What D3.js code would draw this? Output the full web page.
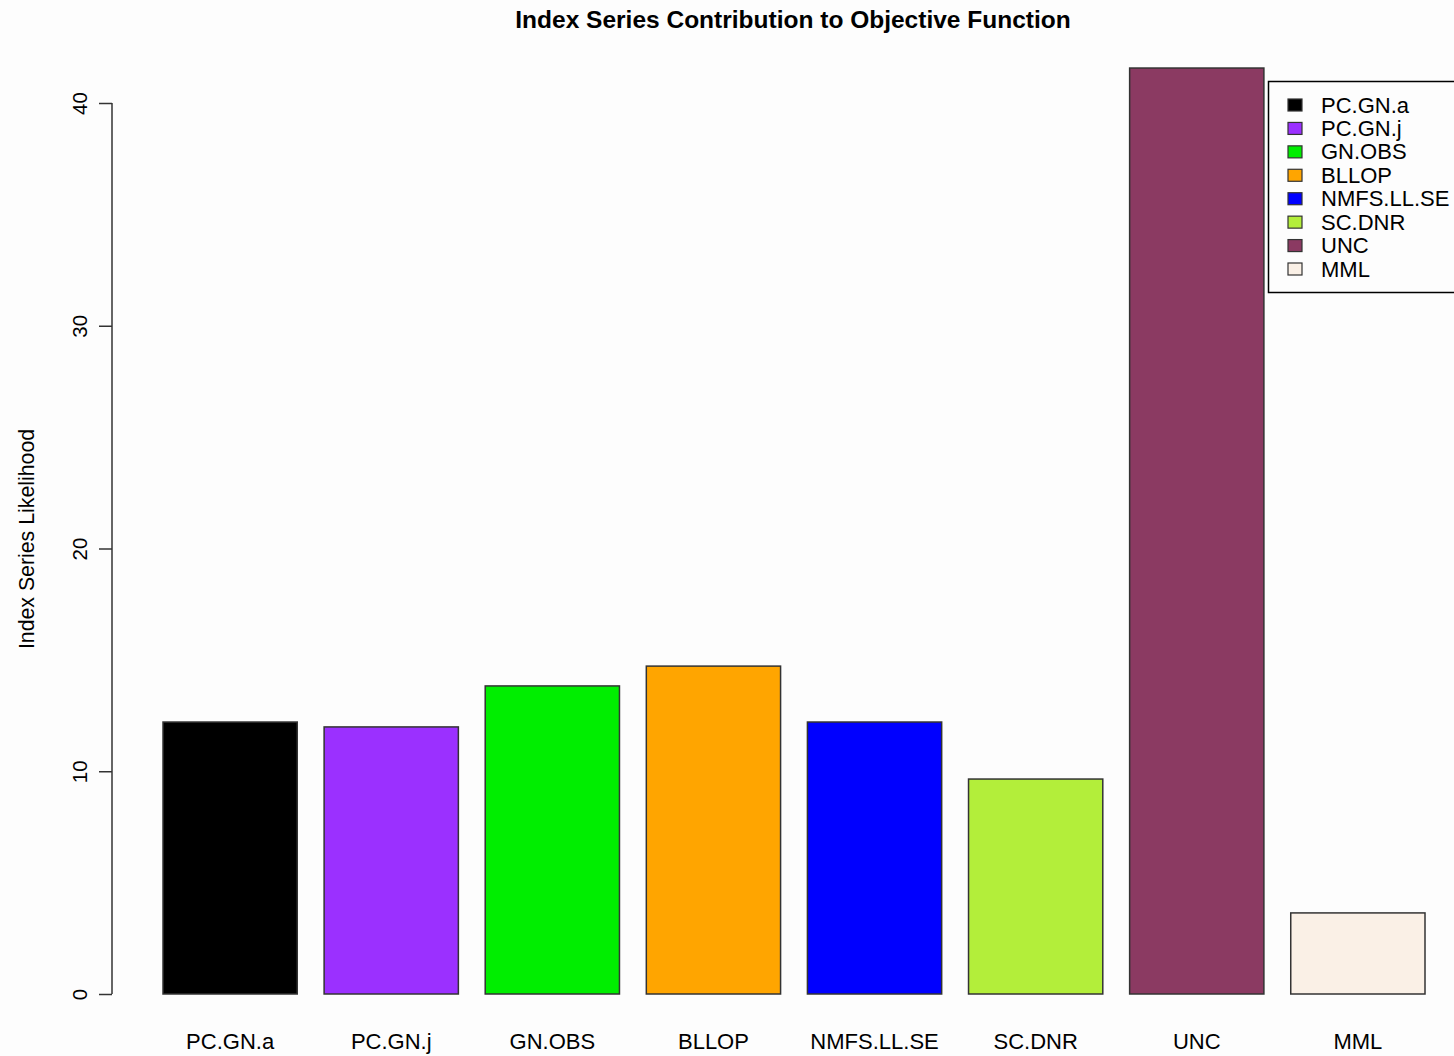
<!DOCTYPE html>
<html>
<head>
<meta charset="utf-8">
<script src="https://cdn.jsdelivr.net/npm/d3@7"></script>
<style>
  html, body { margin: 0; padding: 0; background: #fdfdfd; }
  svg { display: block; }
  text { font-family: "Liberation Sans", Arial, sans-serif; fill: #000; }
</style>
</head>
<body>
<svg id="chart" width="1454" height="1056"></svg>
<script>
const categories = ["PC.GN.a", "PC.GN.j", "GN.OBS", "BLLOP", "NMFS.LL.SE", "SC.DNR", "UNC", "MML"];
const values = [12.21, 11.99, 13.83, 14.72, 12.21, 9.65, 41.57, 3.64];
const colors = ["#000000", "#9B30FF", "#00EE00", "#FFA500", "#0000FF", "#B3EE3A", "#8B3A62", "#FAF0E6"];
const yTicks = [0, 10, 20, 30, 40];
const titleText = "Index Series Contribution to Objective Function";
const yLabel = "Index Series Likelihood";

const svg = d3.select("#chart");
svg.append("rect").attr("width", 1454).attr("height", 1056).attr("fill", "#fdfdfd");

const x = d3.scaleBand().domain(categories).range([163, 1425]).paddingInner(1/6).paddingOuter(0);
const y = d3.scaleLinear().domain([0, 40]).range([994, 103]);

// Bars
svg.append("g").selectAll("rect").data(categories).join("rect")
  .attr("x", d => x(d))
  .attr("y", (d, i) => y(values[i]))
  .attr("width", x.bandwidth())
  .attr("height", (d, i) => y(0) - y(values[i]))
  .attr("fill", (d, i) => colors[i])
  .attr("stroke", "#333")
  .attr("stroke-width", 1.5);

// Y axis
const yAxis = d3.axisLeft(y).tickValues(yTicks).tickSize(13).tickPadding(0);
const gy = svg.append("g").attr("transform", "translate(112,0)").call(yAxis);
gy.select(".domain").attr("stroke", "#333").attr("stroke-width", 1.5).attr("d", `M0,${y(0)}V${y(40)}`);
gy.selectAll(".tick line").attr("stroke", "#333").attr("stroke-width", 1.5);
gy.selectAll(".tick text")
  .attr("x", null).attr("dy", null)
  .attr("transform", "translate(-25,0) rotate(-90)")
  .attr("text-anchor", "middle")
  .attr("font-size", 20.5)
  .attr("font-family", "Liberation Sans, Arial, sans-serif");

// X labels
const xAxis = d3.axisBottom(x).tickSize(0).tickPadding(0);
const gx = svg.append("g").attr("transform", "translate(0,1049)").call(xAxis);
gx.select(".domain").remove();
gx.selectAll(".tick text")
  .attr("y", 0).attr("dy", null)
  .attr("font-size", 22)
  .attr("font-family", "Liberation Sans, Arial, sans-serif");

// Title
svg.append("text")
  .attr("x", 793).attr("y", 28)
  .attr("text-anchor", "middle")
  .attr("font-size", 24.5)
  .attr("font-weight", "bold")
  .text(titleText);

// Y label
svg.append("text")
  .attr("transform", "translate(34,539) rotate(-90)")
  .attr("text-anchor", "middle")
  .attr("font-size", 21.3)
  .text(yLabel);

// Legend
const leg = svg.append("g");
leg.append("rect").attr("x", 1268.5).attr("y", 81.5).attr("width", 200).attr("height", 211)
  .attr("fill", "#fdfdfd").attr("stroke", "#000").attr("stroke-width", 1.5);
const rowY = d3.scaleLinear().domain([0, 7]).range([105, 269]);
const items = leg.selectAll("g.item").data(categories).join("g").attr("class", "item")
  .attr("transform", (d, i) => `translate(0,${rowY(i)})`);
items.append("rect").attr("x", 1288).attr("y", -6).attr("width", 14).attr("height", 12)
  .attr("fill", (d, i) => colors[i]).attr("stroke", "#333").attr("stroke-width", 1.2);
items.append("text").attr("x", 1321).attr("y", 7.5).attr("font-size", 22).text(d => d);
</script>
</body>
</html>
